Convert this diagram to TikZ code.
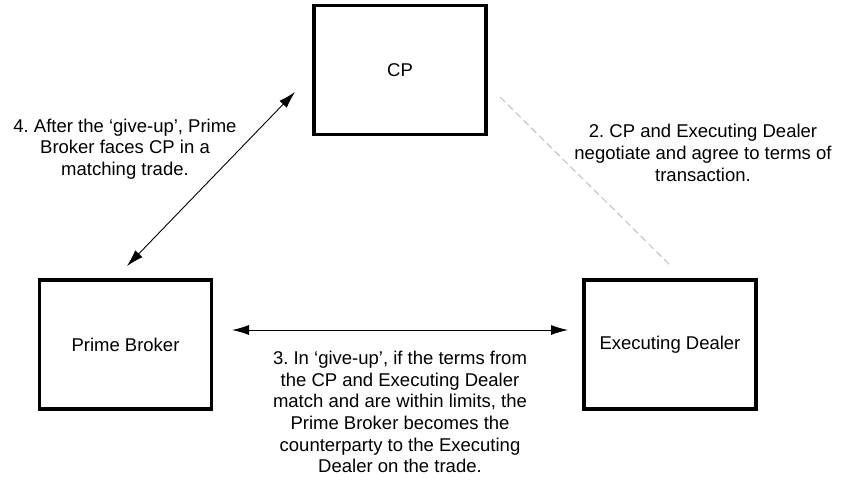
\documentclass[tikz,border=0pt]{standalone}
\usepackage{fontspec}
\setmainfont{Liberation Sans}
\usetikzlibrary{arrows.meta,positioning}
\frenchspacing
\begin{document}
\begin{tikzpicture}[x=1pt, y=-1pt, >={Latex[length=17pt,width=10pt]}]
\tikzset{
block/.style    = {draw, shape=rectangle, line width=3.5pt, minimum width=172pt, minimum height=129pt, inner sep=0pt, font=\fontsize{18.5}{21.5}\selectfont},
note/.style     = {align=center, inner sep=0pt, font=\fontsize{18.5}{21.7}\selectfont},
link/.style     = {draw, line width=0.9pt},
deal/.style     = {draw, black!25, line width=1pt, dash pattern=on 7pt off 4pt},
coord/.style    = {coordinate},
}
    \useasboundingbox (0,0) rectangle (865,483);

    % Party nodes
    \node [block] (cp) at (400,70)    {CP};
    \node [block] (pb) at (125.5,344.5) {Prime Broker};
    \node [block] (ed) at (670,344.5) {Executing Dealer};

    % Connector ends
    \node [coord] (pb_up)   at (127,266) {};
    \node [coord] (cp_down) at (295,92)  {};
    \node [coord] (cp_deal) at (500,97)  {};
    \node [coord] (ed_up)   at (670,265) {};
    \node [coord] (pb_side) at (232,330) {};
    \node [coord] (ed_side) at (568,330) {};

    % Connectors
    \draw [link, <->] (pb_up) -- (cp_down);
    \draw [deal] (cp_deal) -- (ed_up);
    \draw [link, <->] (pb_side) -- (ed_side);

    % Step notes
    \node [note] (step2) at (703,153) {2. CP and Executing Dealer\\negotiate and agree to terms of\\transaction.};
    \node [note] (step3) at (400,412) {3. In `give-up', if the terms from\\the CP and Executing Dealer\\match and are within limits, the\\Prime Broker becomes the\\counterparty to the Executing\\Dealer on the trade.};
    \node [note] (step4) at (125,149) {4. After the `give-up', Prime\\Broker faces CP in a\\matching trade.};

\end{tikzpicture}
\end{document}
